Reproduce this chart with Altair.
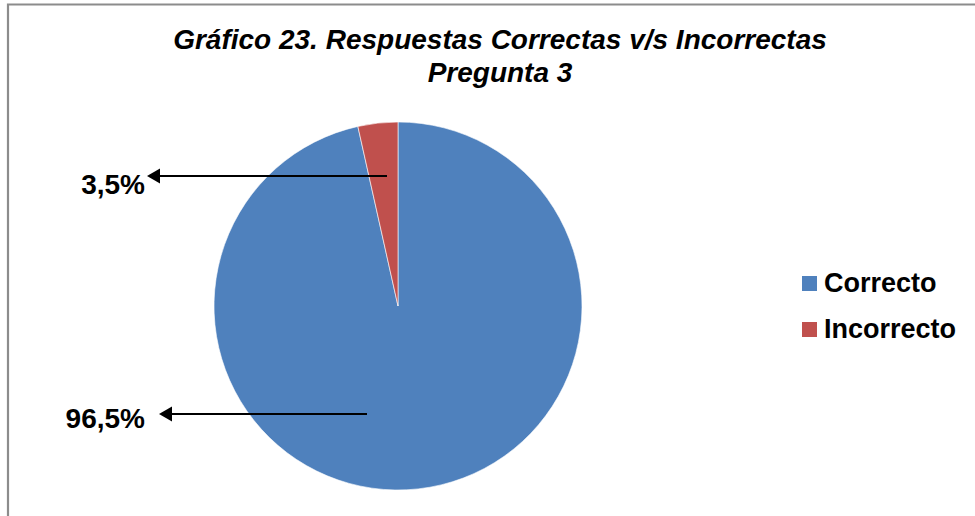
import altair as alt
import pandas as pd

# ---- data ----
categories = ["Correcto", "Incorrecto"]
values = [96.5, 3.5]
colors = ["#4F81BD", "#C0504D"]
title_lines = ["Gráfico 23. Respuestas Correctas v/s Incorrectas", "Pregunta 3"]

labels = [f"{v:.1f}".replace(".", ",") + "%" for v in values]

pie_df = pd.DataFrame({"categoria": categories, "valor": values, "orden": [0, 1]})

# ---- layout (pixel positions of annotations) ----
W, H = 975, 516
CX, CY, R = 398, 306, 184
ann_df = pd.DataFrame({
    "texto": labels,
    "tx": [145, 145],          # right edge of label text
    "ty": [428, 194],          # baseline of label text
    "x_start": [367, 387],     # arrow tail inside slice
    "x_tip": [158, 146],       # arrow tip
    "ay": [414, 176],
})
ann_df["x_head"] = ann_df["x_tip"] + 7.5

title_df = pd.DataFrame({"linea": title_lines, "x": [500, 500], "y": [49, 82]})

FONT = "Liberation Sans"

border = alt.Chart(pd.DataFrame({"a": [0]})).mark_rect(
    fill=None, stroke="#8C8C8C", strokeWidth=2.2
).encode(x=alt.value(8), y=alt.value(4.5), x2=alt.value(W + 20), y2=alt.value(H + 20))

pie = alt.Chart(pie_df).mark_arc(
    outerRadius=R, stroke="#FFFFFF", strokeWidth=0.6
).encode(
    theta=alt.Theta("valor:Q", stack=True),
    order=alt.Order("orden:Q"),
    color=alt.Color(
        "categoria:N",
        scale=alt.Scale(domain=categories, range=colors),
        legend=alt.Legend(
            title=None,
            orient="none",
            legendX=796,
            legendY=270,
            symbolType="square",
            symbolSize=225,
            symbolStrokeWidth=0,
            labelFont=FONT,
            labelFontWeight="bold",
            labelFontSize=27,
            labelColor="#000000",
            labelOffset=1,
            rowPadding=18,
            padding=0,
        ),
    ),
    x=alt.value(CX),
    y=alt.value(CY),
)

base_ann = alt.Chart(ann_df)
arrow_line = base_ann.mark_rule(color="#000000", strokeWidth=2).encode(
    x=alt.X("x_start:Q", scale=None),
    x2="x_head:Q",
    y=alt.Y("ay:Q", scale=None),
)
arrow_head = base_ann.mark_point(
    shape="triangle-left", filled=True, size=225, color="#000000", opacity=1, strokeWidth=0
).encode(
    x=alt.X("x_head:Q", scale=None),
    y=alt.Y("ay:Q", scale=None),
)
label_text = base_ann.mark_text(
    align="right", baseline="alphabetic", font=FONT, fontWeight="bold", fontSize=28, color="#000000"
).encode(
    x=alt.X("tx:Q", scale=None),
    y=alt.Y("ty:Q", scale=None),
    text="texto:N",
)

title_text = alt.Chart(title_df).mark_text(
    align="center", baseline="alphabetic", font=FONT, fontWeight="bold", fontStyle="italic",
    fontSize=28, color="#000000"
).encode(
    x=alt.X("x:Q", scale=None),
    y=alt.Y("y:Q", scale=None),
    text="linea:N",
)

chart = alt.layer(border, pie, arrow_line, arrow_head, label_text, title_text).properties(
    width=W, height=H, autosize=alt.AutoSizeParams(type="none"), padding=0, background="#FFFFFF"
).configure_view(stroke=None)

chart.save("out.html", embed_options={"renderer": "svg", "actions": False})
